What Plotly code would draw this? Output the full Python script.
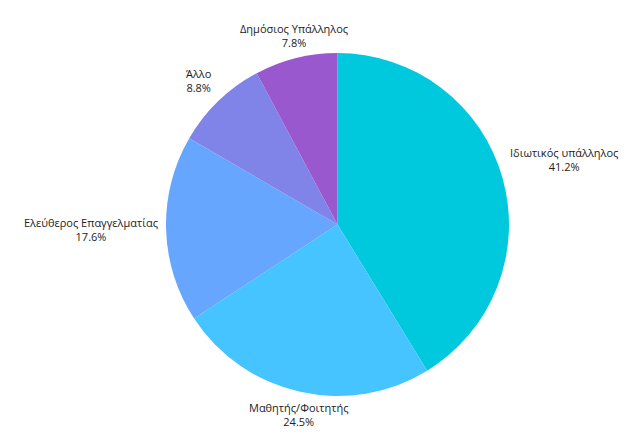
import math
import plotly.graph_objects as go

labels = ["Ιδιωτικός υπάλληλος", "Μαθητής/Φοιτητής", "Ελεύθερος Επαγγελματίας", "Άλλο", "Δημόσιος Υπάλληλος"]
values = [41.2, 24.5, 17.6, 8.8, 7.8]
colors = ["#00C9DD", "#45C4FF", "#66A6FF", "#8083E8", "#9A58CE"]

W, H = 619, 427
ML, MR, MT, MB = 40, 0, 45, 39
pw, ph = W - ML - MR, H - MT - MB
R = min(pw, ph) / 2
GAP = 6

fig = go.Figure(go.Pie(
    labels=labels,
    values=values,
    sort=False,
    direction="clockwise",
    rotation=0,
    marker=dict(colors=colors, line=dict(width=0)),
    textinfo="none",
    showlegend=False,
    hoverinfo="label+percent",
))

total = sum(values)
cum = 0.0
for lab, v in zip(labels, values):
    mid = (cum + v / 2) / total * 2 * math.pi
    cum += v
    s, c = math.sin(mid), math.cos(mid)
    x = 0.5 + (R + GAP) * s / pw
    y = 0.5 + (R + GAP) * c / ph
    xa = "center" if abs(s) < 0.5 else ("left" if s > 0 else "right")
    ya = "middle" if abs(c) < 0.2 else ("bottom" if c > 0 else "top")
    fig.add_annotation(
        x=x, y=y, xref="paper", yref="paper",
        text=f"{lab}<br>{v:.1f}%", showarrow=False,
        xanchor=xa, yanchor=ya, align="center",
        font=dict(family="Open Sans", size=11, color="#222222"),
    )

fig.update_layout(
    width=W, height=H,
    margin=dict(l=ML, r=MR, t=MT, b=MB),
    paper_bgcolor="white",
)
fig.write_html("out.html")
